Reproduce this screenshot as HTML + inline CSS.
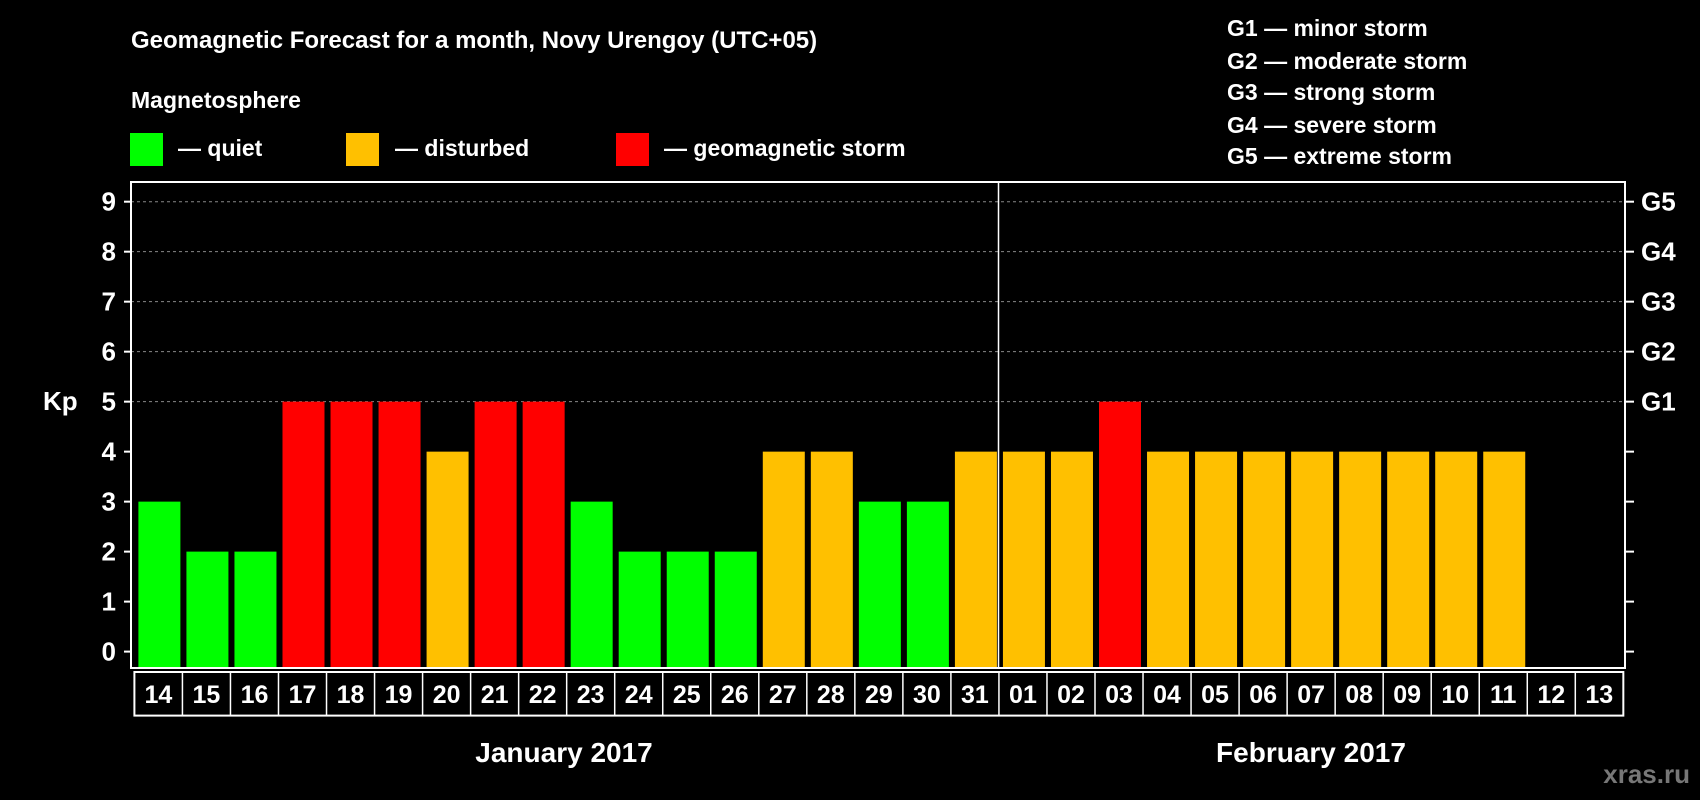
<!DOCTYPE html>
<html><head><meta charset="utf-8"><style>
html,body{margin:0;padding:0;background:#000;}
svg{display:block;}
text{font-family:"Liberation Sans",Arial,sans-serif;font-weight:bold;fill:#fff;}
.n{font-family:"Liberation Sans Narrow","Liberation Sans",sans-serif;}
</style></head><body>
<svg id="c" width="1700" height="800" viewBox="0 0 1700 800">
<text x="131" y="48" font-size="24">Geomagnetic Forecast for a month, Novy Urengoy (UTC+05)</text>
<text x="131" y="108" font-size="23">Magnetosphere</text>
<rect x="130" y="133" width="33" height="33" fill="#00ff00"/>
<text x="178" y="156" font-size="23">— quiet</text>
<rect x="346" y="133" width="33" height="33" fill="#ffc000"/>
<text x="395" y="156" font-size="23">— disturbed</text>
<rect x="616" y="133" width="33" height="33" fill="#ff0000"/>
<text x="664" y="156" font-size="23">— geomagnetic storm</text>
<g font-size="23">
<text x="1227" y="36">G1 — minor storm</text>
<text x="1227" y="69">G2 — moderate storm</text>
<text x="1227" y="100">G3 — strong storm</text>
<text x="1227" y="133">G4 — severe storm</text>
<text x="1227" y="164">G5 — extreme storm</text>
</g>
<text x="43" y="410" font-size="26">Kp</text>
<g id="grid"></g>
<g id="bars"></g>
<rect x="131" y="182" width="1494" height="486" fill="none" stroke="#fff" stroke-width="2"/>
<line x1="998.5" y1="182" x2="998.5" y2="668" stroke="#fff" stroke-width="1.5"/>
<g id="xlab"></g>
<text x="564" y="762" font-size="28" text-anchor="middle" class="n">January 2017</text>
<text x="1311" y="762" font-size="28" text-anchor="middle" class="n">February 2017</text>
<text x="1690" y="783" font-size="26" text-anchor="end" class="n" style="fill:#777">xras.ru</text>
</svg>
<script>
const days=["14","15","16","17","18","19","20","21","22","23","24","25","26","27","28","29","30","31","01","02","03","04","05","06","07","08","09","10","11","12","13"];
const kp=[3,2,2,5,5,5,4,5,5,3,2,2,2,4,4,3,3,4,4,4,5,4,4,4,4,4,4,4,4,null,null];
const yTicks=[0,1,2,3,4,5,6,7,8,9];
const gLabels=["G1","G2","G3","G4","G5"];
const NS="http://www.w3.org/2000/svg";
const x0=134.4,slot=48.03,bottom=668;
function y(v){return 651.6-v*49.99;}
function sx(i){return x0+i*slot;}
function mk(t,a,p){const e=document.createElementNS(NS,t);for(const k in a)e.setAttribute(k,a[k]);p.appendChild(e);return e;}
const grid=document.getElementById('grid');
yTicks.forEach(v=>{
  if(v>=5){const l=mk('line',{x1:131,x2:1625,y1:y(v),y2:y(v),stroke:'#888','stroke-dasharray':'3,3','stroke-width':1},grid);
  
  }
  const t1=mk('line',{x1:1625,x2:1634,y1:y(v),y2:y(v),stroke:'#fff','stroke-width':2},grid);
  
  
  const t2=mk('line',{x1:124,x2:131,y1:y(v),y2:y(v),stroke:'#fff','stroke-width':2},grid);
  
  
  const tx=mk('text',{x:116,y:y(v)+9,'font-size':26,'text-anchor':'end',class:'n'},grid);
  tx.textContent=v;
  
  
  if(v>=5){const g=mk('text',{x:1641,y:y(v)+9,'font-size':26,class:'n'},grid);
  g.textContent=gLabels[v-5];
  
  }
});
const bars=document.getElementById('bars');
kp.forEach((v,i)=>{
  if(v==null)return;
  const c=v<=3?'#00ff00':(v==4?'#ffc000':'#ff0000');
  const r=mk('rect',{x:sx(i)+4,y:y(v),width:42,height:bottom-y(v),fill:c},bars);
  
  
});
const xl=document.getElementById('xlab');
const fr=mk('rect',{x:x0,y:672,width:slot*days.length,height:43.6,fill:'none',stroke:'#fff','stroke-width':2},xl);


days.forEach((d,i)=>{
  if(i>0){const l=mk('line',{x1:sx(i),x2:sx(i),y1:672,y2:715.6,stroke:'#fff','stroke-width':1.5},xl);
  
  }
  const t=mk('text',{x:sx(i)+slot/2,y:703,'font-size':25,'text-anchor':'middle',class:'n'},xl);
  t.textContent=d;
  
  
});
</script>
</body></html>
